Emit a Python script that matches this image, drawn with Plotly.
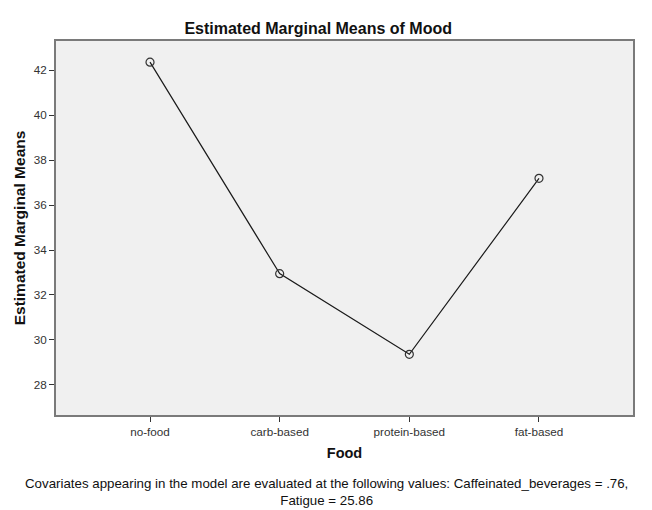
import plotly.graph_objects as go

categories = ["no-food", "carb-based", "protein-based", "fat-based"]
means = [42.36, 32.95, 29.36, 37.19]
y_ticks = [28, 30, 32, 34, 36, 38, 40, 42]

title = "Estimated Marginal Means of Mood"
x_title = "Food"
y_title = "Estimated Marginal Means"
footnote = ("Covariates appearing in the model are evaluated at the following values: "
            "Caffeinated_beverages = .76,<br>Fatigue = 25.86")

FONT = "Liberation Sans, Arial, sans-serif"

fig = go.Figure()
fig.add_trace(go.Scatter(
    x=list(range(len(categories))), y=means,
    mode="lines+markers",
    line=dict(color="#1a1a1a", width=1.2),
    marker=dict(symbol="circle-open", size=8, color="#333333", line=dict(width=1.2)),
    showlegend=False, hoverinfo="skip",
))

fig.update_layout(
    width=652, height=510,
    margin=dict(l=56, r=19, t=41, b=95, autoexpand=False),
    paper_bgcolor="white",
    plot_bgcolor="#f0f0f0",
    font=dict(family=FONT, color="#222222"),
    title=dict(text="<b>" + title + "</b>", x=0.488, xanchor="center",
               y=1 - 28 / 510, yanchor="middle",
               font=dict(size=16, color="#111111", family=FONT)),
    xaxis=dict(
        range=[-0.725, 3.725], automargin=False,
        tickmode="array", tickvals=list(range(len(categories))), ticktext=categories,
        ticks="outside", ticklen=5, tickcolor="#333333", tickwidth=1,
        tickfont=dict(size=11.7, color="#333333"),
        showgrid=False, zeroline=False,
        showline=True, linecolor="#7a7a7a", linewidth=2, mirror=True,
        title=dict(text="<b>" + x_title + "</b>", font=dict(size=14.5, color="#111111"), standoff=11),
    ),
    yaxis=dict(
        range=[26.66, 43.3], automargin=False,
        tickmode="array", tickvals=y_ticks, ticktext=[str(v) for v in y_ticks],
        ticks="outside", ticklen=5, tickcolor="#333333", tickwidth=1,
        tickfont=dict(size=11.7, color="#333333"),
        showgrid=False, zeroline=False,
        showline=True, linecolor="#7a7a7a", linewidth=2, mirror=True,
        title=dict(text="<b>" + y_title + "</b>", font=dict(size=15.5, color="#111111"), standoff=4),
    ),
    annotations=[dict(
        text=footnote, xref="paper", yref="paper",
        x=(326 - 56) / 577, y=-(492 - 415) / 374, xanchor="center", yanchor="middle",
        showarrow=False, align="center",
        font=dict(size=13.3, color="#111111", family=FONT),
    )],
)

fig.write_html("out.html", config={"displayModeBar": False},
               post_script="document.body.style.margin='0';document.body.style.padding='0';")
